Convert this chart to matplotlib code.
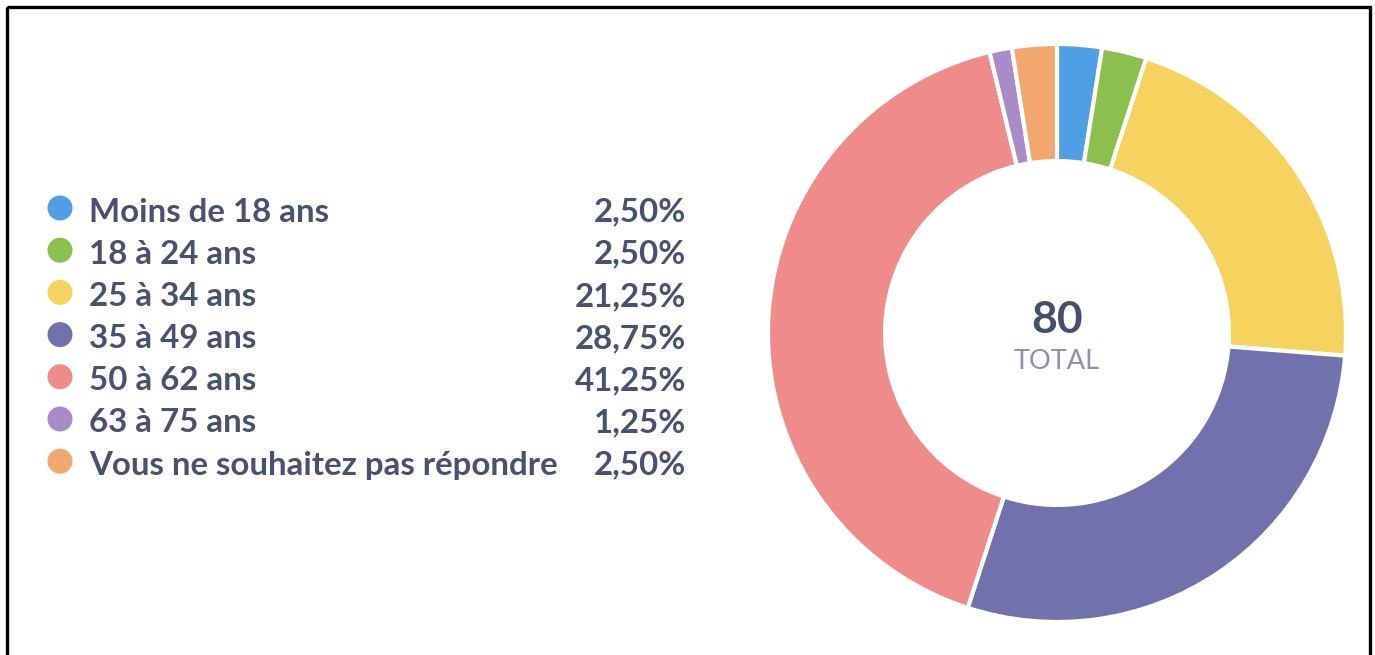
import matplotlib.pyplot as plt
import matplotlib.patches as patches

categories = ['Moins de 18 ans', '18 à 24 ans', '25 à 34 ans', '35 à 49 ans',
              '50 à 62 ans', '63 à 75 ans', 'Vous ne souhaitez pas répondre']
percentages = [2.50, 2.50, 21.25, 28.75, 41.25, 1.25, 2.50]
colors = ['#4f9fe4', '#8bc04f', '#f6d35e', '#7171ad', '#ef8b89', '#a98bc9', '#f2a76e']
total = 80

W, H = 1375, 655
fig = plt.figure(figsize=(W / 100, H / 100), dpi=100)
fig.patch.set_facecolor('white')

# overlay axis in pixel coordinates (y down)
ov = fig.add_axes([0, 0, 1, 1])
ov.set_xlim(0, W)
ov.set_ylim(H, 0)
ov.axis('off')

# black frame, bottom edge cut off
frame = patches.Rectangle((7.5, 6.5), 1363, 700, linewidth=2.4,
                          edgecolor='black', facecolor='none')
ov.add_patch(frame)

# legend
text_color = '#48526e'
row_y0, row_step = 208, 42.2
for i, (cat, pct, col) in enumerate(zip(categories, percentages, colors)):
    y = row_y0 + i * row_step
    ov.add_patch(patches.Circle((60, y), 12.5, facecolor=col, edgecolor='none'))
    ov.text(89, y + 13.5, cat, fontsize=23.8, family='Lato', fontweight='bold',
            color=text_color, ha='left', va='baseline')
    label = f'{pct:.2f}%'.replace('.', ',')
    ov.text(686, y + 13.5, label, fontsize=23.8, family='Lato', fontweight='bold',
            color=text_color, ha='right', va='baseline')

# donut
cx, cy, r = 1057, 333, 289
ax = fig.add_axes([(cx - r) / W, (H - cy - r) / H, 2 * r / W, 2 * r / H])
ax.pie(percentages, colors=colors, startangle=90, counterclock=False, radius=1,
       wedgeprops=dict(width=0.405, edgecolor='white', linewidth=3.0))
ax.set_xlim(-1, 1)
ax.set_ylim(-1, 1)
ax.set_aspect('equal')
ax.axis('off')

ov.text(cx, 333, str(total), fontsize=32, family='Lato', fontweight='bold',
        color='#454f6b', ha='center', va='baseline')
ov.text(cx, 369, 'TOTAL', fontsize=19.5, family='Lato',
        color='#8a92a7', ha='center', va='baseline')

fig.savefig('out.png', dpi=100, facecolor='white')
